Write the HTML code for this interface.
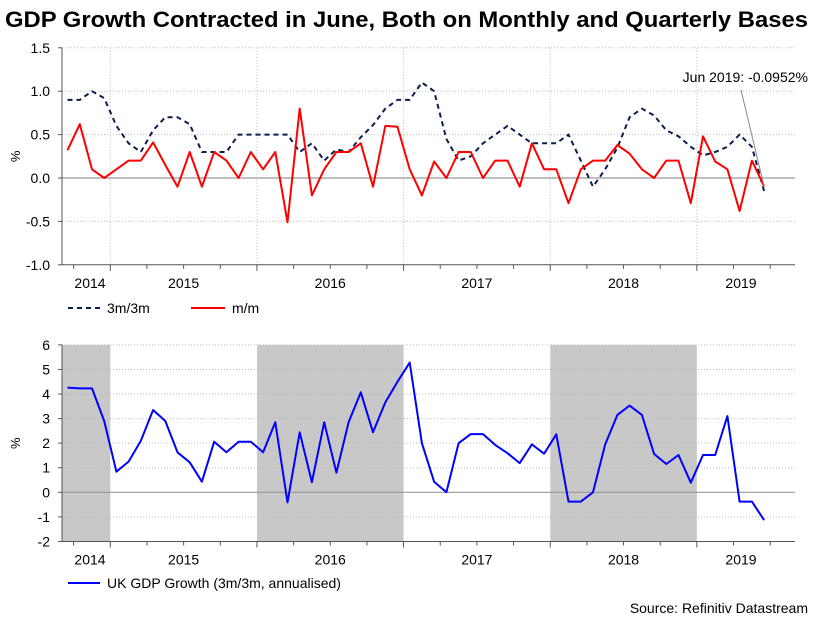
<!DOCTYPE html>
<html><head><meta charset="utf-8">
<style>
body{margin:0;background:#fff;}
svg{display:block;font-family:"Liberation Sans",Arial,sans-serif;}
</style></head>
<body>
<svg id="chart" width="815" height="617" viewBox="0 0 815 617" xmlns="http://www.w3.org/2000/svg">
<text x="5" y="27" font-size="22" font-weight="bold" fill="#000" textLength="803" lengthAdjust="spacingAndGlyphs">GDP Growth Contracted in June, Both on Monthly and Quarterly Bases</text>
<g id="topPanel"></g>
<g id="botPanel"></g>
<g>
<line x1="68" y1="308" x2="100" y2="308" stroke="#0b1f4e" stroke-width="2" stroke-dasharray="5,4"/>
<text x="107" y="313" font-size="14">3m/3m</text>
<line x1="191" y1="308" x2="225" y2="308" stroke="#ff0000" stroke-width="2"/>
<text x="232" y="313" font-size="14">m/m</text>
</g>
<g>
<line x1="68" y1="583" x2="100" y2="583" stroke="#0000ff" stroke-width="2"/>
<text x="107" y="588" font-size="14">UK GDP Growth (3m/3m, annualised)</text>
</g>
<text x="808" y="613" font-size="14" text-anchor="end">Source: Refinitiv Datastream</text>
</svg>
<script>
// monthly data Sep 2014 .. Jun 2019
const mm = [0.32,0.62,0.1,0,0.1,0.2,0.2,0.41,0.15,-0.1,0.3,-0.1,0.3,0.2,0,0.3,0.1,0.3,-0.51,0.8,-0.2,0.1,0.3,0.3,0.4,-0.1,0.6,0.59,0.1,-0.2,0.19,0,0.3,0.3,0,0.2,0.2,-0.1,0.4,0.1,0.1,-0.29,0.1,0.2,0.2,0.38,0.28,0.1,0,0.2,0.2,-0.29,0.48,0.19,0.1,-0.38,0.2,-0.0952];
const m3 = [0.9,0.9,1.0,0.92,0.6,0.4,0.3,0.55,0.7,0.7,0.62,0.3,0.3,0.3,0.5,0.5,0.5,0.5,0.5,0.3,0.4,0.2,0.33,0.3,0.47,0.61,0.8,0.9,0.9,1.1,1.0,0.45,0.2,0.25,0.4,0.5,0.6,0.5,0.4,0.4,0.4,0.5,0.2,-0.1,0.1,0.35,0.7,0.8,0.72,0.55,0.48,0.36,0.26,0.3,0.36,0.5,0.36,-0.15];
const gdp = [4.26,4.23,4.23,2.9,0.84,1.25,2.09,3.35,2.9,1.63,1.22,0.43,2.06,1.63,2.06,2.06,1.63,2.85,-0.41,2.44,0.41,2.85,0.8,2.85,4.07,2.44,3.66,4.5,5.28,2.0,0.43,0,2.0,2.37,2.37,1.93,1.59,1.19,1.95,1.57,2.36,-0.38,-0.38,0,1.95,3.15,3.53,3.15,1.56,1.15,1.52,0.39,1.52,1.52,3.1,-0.38,-0.38,-1.13];
const years = ["2014","2015","2016","2017","2018","2019"];
const topTicks = ["1.5","1.0","0.5","0.0","-0.5","-1.0"];
const botTicks = ["6","5","4","3","2","1","0","-1","-2"];
const shadedYears = ["2014","2016","2018"];

const NS="http://www.w3.org/2000/svg";
const X0=62, X1=795, JAN15=110.3, MON=12.22;
const xm = i => JAN15 + (i-3.5)*MON;
const xy = y => JAN15 + (y-2015)*12*MON;
const yTop = v => 178 - v*86.8;
const yBot = v => 492.3 - v*24.57;
function el(tag, attrs, parent, text){
  const e=document.createElementNS(NS,tag);
  for(const k in attrs) e.setAttribute(k,attrs[k]);
  if(text!==undefined) e.textContent=text;
  parent.appendChild(e); return e;
}
function panel(g, ys, ticks, yMin, yMax, vgrid, shade){
  if(shade){
    shadedYears.forEach(yr=>{
      const a=Math.max(X0,xy(+yr)), b=Math.min(X1,xy(+yr+1));
      const r=el('rect',{x:a,y:ys(yMax),width:b-a,height:ys(yMin)-ys(yMax),fill:'#c8c8c8'},g);
      
      
    });
  }
  ticks.forEach(t=>{
    const v=parseFloat(t), y=ys(v);
    if(v===0){
      const l=el('line',{x1:X0,x2:X1,y1:y,y2:y,stroke:'#999','stroke-width':1.2},g);
      
      
    } else if(v!==yMin){
      const l=el('line',{x1:X0,x2:X1,y1:y,y2:y,stroke:'#bbb','stroke-dasharray':'1,2'},g);
      
      
    }
    const tx=el('text',{x:50,y:y+5,'font-size':14,'text-anchor':'end'},g,t);
    
    
    el('line',{x1:X0-4,x2:X0,y1:y,y2:y,stroke:'#555'},g);
  });
  if(vgrid){
    for(let yr=2015;yr<=2019;yr++){
      const l=el('line',{x1:xy(yr),x2:xy(yr),y1:ys(yMax),y2:ys(yMin),stroke:'#bbb','stroke-dasharray':'1,2'},g);
      
      
    }
  }
  const ax=el('line',{x1:X0,x2:X0,y1:ys(yMax),y2:ys(yMin),stroke:'#555'},g);
  
  
  const bx=el('line',{x1:X0,x2:X1,y1:ys(yMin),y2:ys(yMin),stroke:'#555'},g);
  
  
  for(let q=-2;q<=22;q++){
    const x=JAN15+q*3*MON; if(x<X0||x>X1) continue;
    el('line',{x1:x,x2:x,y1:ys(yMin),y2:ys(yMin)+(q%4===0?6:4),stroke:'#555'},g);
  }
  years.forEach(yr=>{
    let c=xy(+yr)+6*MON;
    if(yr==="2014") c=90; if(yr==="2019") c=741;
    const t=el('text',{x:c,y:ys(yMin)+23,'font-size':14,'text-anchor':'middle'},g,yr);
    
    
  });
  const mid=(ys(yMax)+ys(yMin))/2;
  const yl=el('text',{x:16,y:mid+4,'font-size':13,'text-anchor':'middle',transform:'rotate(-90 16 '+mid+')'},g,'%');
  
  
}
function line(g, data, ys, color, dash, name){
  const d=data.map((v,i)=>(i?'L':'M')+xm(i).toFixed(1)+','+ys(v).toFixed(1)).join('');
  const p=el('path',{d:d,fill:'none',stroke:color,'stroke-width':2,'stroke-linejoin':'round'},g);
  if(dash) p.setAttribute('stroke-dasharray',dash);
  
  
}
const topG=document.getElementById('topPanel'), botG=document.getElementById('botPanel');
panel(topG,yTop,topTicks,-1,1.5,true,false);
line(topG,m3,yTop,'#0b1f4e','5,4','series-3m3m');
line(topG,mm,yTop,'#ff0000',null,'series-mm');
const li=mm.length-1;
const ann=el('line',{x1:741,y1:90,x2:xm(li),y2:yTop(mm[li])},topG);
ann.setAttribute('stroke','#888');


const at=el('text',{x:808,y:82,'font-size':14,'text-anchor':'end'},topG,'Jun 2019: '+mm[li].toFixed(4)+'%');


panel(botG,yBot,botTicks,-2,6,false,true);
line(botG,gdp,yBot,'#0000ff',null,'series-gdp');
</script>
</body></html>
